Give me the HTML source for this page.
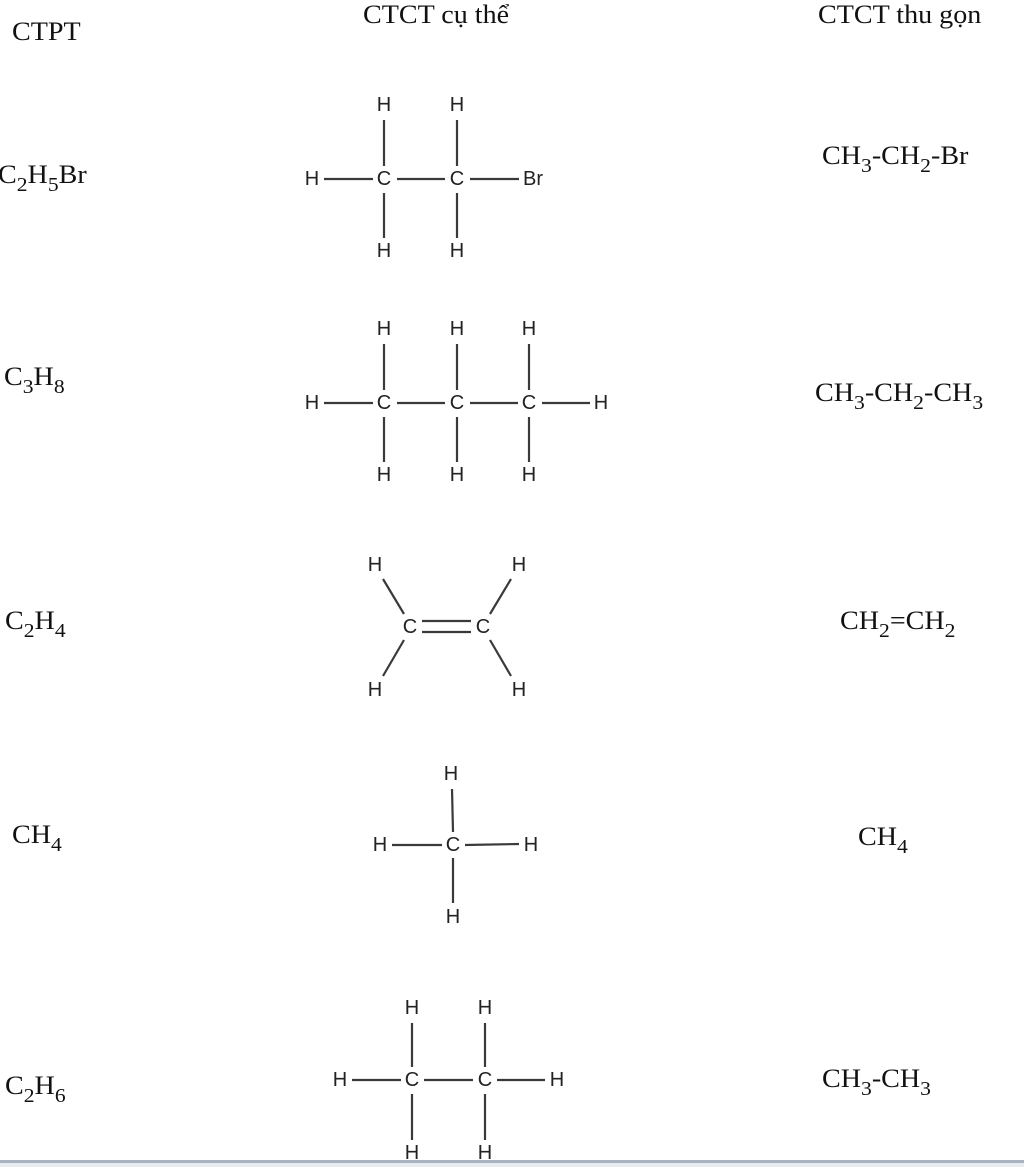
<!DOCTYPE html>
<html><head><meta charset="utf-8"><style>
html,body{margin:0;padding:0;background:#fff;}
body{width:1024px;height:1167px;position:relative;overflow:hidden;}
.t{position:absolute;font-family:"Liberation Serif",serif;font-size:26px;color:#111;white-space:nowrap;line-height:1;transform:scaleX(1.08);transform-origin:0 0;}
.t sub{font-size:20px;vertical-align:-8px;line-height:0;}
svg{position:absolute;left:0;top:0;}
svg text{font-family:"Liberation Sans",sans-serif;font-size:20px;fill:#222;text-anchor:middle;dominant-baseline:central;}
svg line{stroke:#3a3a3a;stroke-width:2.2;}
</style></head><body>
<div class="t" style="left:12px;top:19px">CTPT</div>
<div class="t" style="left:363px;top:2px">CTCT cụ thể</div>
<div class="t" style="left:818px;top:2px">CTCT thu gọn</div>

<div class="t" style="left:-2px;top:162px">C<sub>2</sub>H<sub>5</sub>Br</div>
<div class="t" style="left:822px;top:143px">CH<sub>3</sub>-CH<sub>2</sub>-Br</div>
<div class="t" style="left:4px;top:364px">C<sub>3</sub>H<sub>8</sub></div>
<div class="t" style="left:815px;top:380px">CH<sub>3</sub>-CH<sub>2</sub>-CH<sub>3</sub></div>
<div class="t" style="left:5px;top:608px">C<sub>2</sub>H<sub>4</sub></div>
<div class="t" style="left:840px;top:608px">CH<sub>2</sub>=CH<sub>2</sub></div>
<div class="t" style="left:12px;top:822px">CH<sub>4</sub></div>
<div class="t" style="left:858px;top:824px">CH<sub>4</sub></div>
<div class="t" style="left:5px;top:1073px">C<sub>2</sub>H<sub>6</sub></div>
<div class="t" style="left:822px;top:1066px">CH<sub>3</sub>-CH<sub>3</sub></div>

<svg width="1024" height="1167">
<text x="384" y="179">C</text><text x="457" y="179">C</text>
<text x="384" y="105">H</text><text x="457" y="105">H</text>
<text x="384" y="251">H</text><text x="457" y="251">H</text>
<text x="312" y="179">H</text><text x="533" y="179">Br</text>
<line x1="324" y1="179" x2="373" y2="179"/><line x1="397" y1="179" x2="445" y2="179"/><line x1="470" y1="179" x2="519" y2="179"/>
<line x1="384" y1="120" x2="384" y2="166"/><line x1="457" y1="120" x2="457" y2="166"/>
<line x1="384" y1="193" x2="384" y2="238"/><line x1="457" y1="193" x2="457" y2="238"/>
<text x="384" y="403">C</text><text x="457" y="403">C</text><text x="529" y="403">C</text>
<text x="384" y="329">H</text><text x="457" y="329">H</text><text x="529" y="329">H</text>
<text x="384" y="475">H</text><text x="457" y="475">H</text><text x="529" y="475">H</text>
<text x="312" y="403">H</text><text x="601" y="403">H</text>
<line x1="324" y1="403" x2="373" y2="403"/><line x1="397" y1="403" x2="445" y2="403"/><line x1="470" y1="403" x2="518" y2="403"/><line x1="542" y1="403" x2="590" y2="403"/>
<line x1="384" y1="344" x2="384" y2="390"/><line x1="457" y1="344" x2="457" y2="390"/><line x1="529" y1="344" x2="529" y2="390"/>
<line x1="384" y1="417" x2="384" y2="462"/><line x1="457" y1="417" x2="457" y2="462"/><line x1="529" y1="417" x2="529" y2="462"/>
<text x="410" y="627">C</text><text x="483" y="627">C</text>
<text x="375" y="565">H</text><text x="375" y="690">H</text><text x="519" y="565">H</text><text x="519" y="690">H</text>
<line x1="422" y1="621" x2="471" y2="621"/><line x1="422" y1="632" x2="471" y2="632"/>
<line x1="383" y1="579" x2="404" y2="614"/><line x1="383" y1="676" x2="404" y2="640"/>
<line x1="511" y1="579" x2="490" y2="614"/><line x1="511" y1="676" x2="490" y2="640"/>
<text x="453" y="845">C</text>
<text x="451" y="774">H</text><text x="453" y="917">H</text><text x="380" y="845">H</text><text x="531" y="845">H</text>
<line x1="392" y1="845" x2="442" y2="845"/><line x1="465" y1="845" x2="519" y2="844"/>
<line x1="452" y1="789" x2="453" y2="832"/><line x1="453" y1="858" x2="453" y2="903"/>
<text x="412" y="1080">C</text><text x="485" y="1080">C</text>
<text x="412" y="1008">H</text><text x="485" y="1008">H</text>
<text x="412" y="1153">H</text><text x="485" y="1153">H</text>
<text x="340" y="1080">H</text><text x="557" y="1080">H</text>
<line x1="352" y1="1080" x2="401" y2="1080"/><line x1="424" y1="1080" x2="473" y2="1080"/><line x1="497" y1="1080" x2="545" y2="1080"/>
<line x1="412" y1="1023" x2="412" y2="1067"/><line x1="485" y1="1023" x2="485" y2="1067"/>
<line x1="412" y1="1094" x2="412" y2="1140"/><line x1="485" y1="1094" x2="485" y2="1140"/>
<rect x="0" y="1160" width="1024" height="3" fill="#a9b3bf"/>
<rect x="0" y="1163" width="1024" height="4" fill="#e8ecf0"/>
</svg>
</body></html>
